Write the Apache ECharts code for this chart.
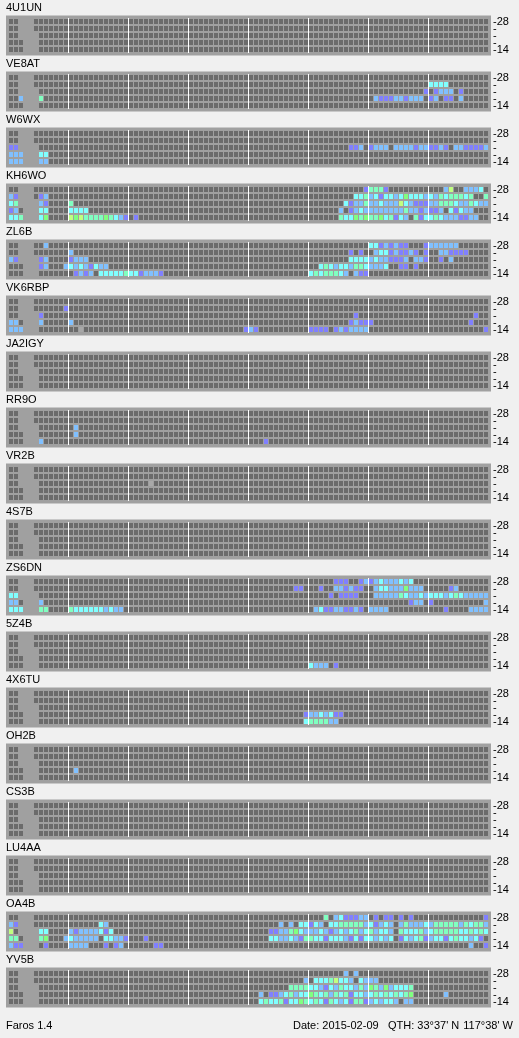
<!DOCTYPE html>
<html><head><meta charset="utf-8">
<script src="https://cdn.jsdelivr.net/npm/echarts@6/dist/echarts.min.js"></script>
<style>html,body{margin:0;padding:0;background:#f0f0f0;}#c{width:519px;height:1038px;}</style>
</head><body><div id="c"></div>
<script>
const stations = ['4U1UN','VE8AT','W6WX','KH6WO','ZL6B','VK6RBP','JA2IGY','RR9O','VR2B','4S7B','ZS6DN','5Z4B','4X6TU','OH2B','CS3B','LU4AA','OA4B','YV5B'];
const bands = ['28','24','21','18','14'];
const bandLabels = ['-28','-','-','-','-14'];
// level codes: '-' no slot, 0 nothing heard, 1..6 SNR steps, 7 grey mark
const levelColors = ['#6b6b6b','#8080ff','#80c0ff','#80ffff','#80ffc0','#80ff80','#c0ff80','#a8a8a8'];
const footerLeft = 'Faros 1.4';
const footerDate = 'Date: 2015-02-09';
const footerQth = "QTH: 33°37' N";
const footerLon = "117°38' W";

// rows top to bottom: 28, 24, 21, 18, 14 MHz; 96 slots of 15 min (groups of 12 = 3 h)
const d_4U1UN = [
'00---0000000 000000000000 000000000000 000000000000 000000000000 000000000000 000000000000 000000000000',
'00---0000000 000000000000 000000000000 000000000000 000000000000 000000000000 000000000000 000000000000',
'00----000000 000000000000 000000000000 000000000000 000000000000 000000000000 000000000000 000000000000',
'000---000000 000000000000 000000000000 000000000000 000000000000 000000000000 000000000000 000000000000',
'000---000000 000000000000 000000000000 000000000000 000000000000 000000000000 000000000000 000000000000'];
const d_VE8AT = [
'00---0000000 000000000000 000000000000 000000000000 000000000000 000000000000 000000000000 000000000000',
'00---0000000 000000000000 000000000000 000000000000 000000000000 000000000000 000000000000 333300000000',
'00----000000 000000000000 000000000000 000000000000 000000000000 000000000000 000000000001 012220100000',
'002---400000 000000000000 000000000000 000000000000 000000000000 000000000000 021112212220 120110200000',
'000---000000 000000000000 000000000000 000000000000 000000000000 000000000000 000000000000 000000000000'];
const d_W6WX = [
'00---0000000 000000000000 000000000000 000000000000 000000000000 000000000000 000000000000 000000000000',
'00---0000000 000000000000 000000000000 000000000000 000000000000 000000000000 000000000000 000000000000',
'11----000000 000000000000 000000000000 000000000000 000000000000 000000001120 122202222122 112102211112',
'222---330000 000000000000 000000000000 000000000000 000000000000 000000000000 000000000000 000000000000',
'222---220000 000000000000 000000000000 000000000000 000000000000 000000000000 000000000000 000000000000'];
const d_KH6WO = [
'00---0000000 000000000000 000000000000 000000000000 000000000000 000000000001 444100000000 000260022230',
'21---0120000 000000000000 000000000000 000000000000 000000000000 000000000334 231332353332 324344434004',
'34----210000 400000000000 000000000000 000000000000 000000000000 000000031224 223222632111 224443224322',
'120---330000 333300000000 000000000000 000000000000 000000000000 000000201232 222222242212 112031322000',
'334---350000 656444454321 010000000000 000000000000 000000000000 000000433545 445341320413 343222112200'];
const d_ZL6B = [
'00---0020000 000000000000 000000000000 000000000000 000000000000 000000000000 331212110001 222222000000',
'00---0000000 200000000000 000000000000 000000000000 000000000000 000000001010 023312112101 002211110000',
'21----120000 122200000000 000000000000 000000000000 000000000000 000000003333 232211120221 001020000000',
'000---120002 323213220000 000000000000 000000000000 000000000000 003432332443 222300110100 000000000000',
'000---000000 012120333334 331222100000 000000000000 000000000000 343444320211 000000000000 000000000000'];
const d_VK6RBP = [
'00---0000000 000000000000 000000000000 000000000000 000000000000 000000000000 000000000000 000000000000',
'00---0000001 000000000000 000000000000 000000000000 000000000000 000000000000 000000000000 000000000000',
'00----100000 000000000000 000000000000 000000000000 000000000000 000000000100 000000000000 000000000100',
'220---200000 200000000000 000000000000 000000000000 000000000000 000000001211 100000000000 000000001000',
'222---000000 007000000000 000000000000 000000000001 210000000000 111101212222 000000000000 000000000001'];
const d_JA2IGY = [
'00---0000000 000000000000 000000000000 000000000000 000000000000 000000000000 000000000000 000000000000',
'00---0000000 000000000000 000000000000 000000000000 000000000000 000000000000 000000000000 000000000000',
'00----000000 000000000000 000000000000 000000000000 000000000000 000000000000 000000000000 000000000000',
'000---000000 000000000000 000000000000 000000000000 000000000000 000000000000 000000000000 000000000000',
'000---000000 000000000000 000000000000 000000000000 000000000000 000000000000 000000000000 000000000000'];
const d_RR9O = [
'00---0000000 000000000000 000000000000 000000000000 000000000000 000000000000 000000000000 000000000000',
'00---0000000 000000000000 000000000000 000000000000 000000000000 000000000000 000000000000 000000000000',
'00----000000 020000000000 000000000000 000000000000 000000000000 000000000000 000000000000 000000000000',
'000---000000 020000000000 000000000000 000000000000 000000000000 000000000000 000000000000 000000000000',
'000---200000 000000000000 000000000000 000000000000 000100000000 000000000000 000000000000 000000000000'];
const d_VR2B = [
'00---0000000 000000000000 000000000000 000000000000 000000000000 000000000000 000000000000 000000000000',
'00---0000000 000000000000 000000000000 000000000000 000000000000 000000000000 000000000000 000000000000',
'00----000000 000000000000 000070000000 000000000000 000000000000 000000000000 000000000000 000000000000',
'000---000000 000000000000 000000000000 000000000000 000000000000 000000000000 000000000000 000000000000',
'000---000000 000000000000 000000000000 000000000000 000000000000 000000000000 000000000000 000000000000'];
const d_4S7B = [
'00---0000000 000000000000 000000000000 000000000000 000000000000 000000000000 000000000000 000000000000',
'00---0000000 000000000000 000000000000 000000000000 000000000000 000000000000 000000000000 000000000000',
'00----000000 000000000000 000000000000 000000000000 000000000000 000000000000 000000000000 000000000000',
'000---000000 000000000000 000000000000 000000000000 000000000000 000000000000 000000000000 000000000000',
'000---000000 000000000000 000000000000 000000000000 000000000000 000000000000 000000000000 000000000000'];
const d_ZS6DN = [
'00---0000000 000000000000 000000000000 000000000000 000000000000 000001110012 123222323000 000000000000',
'00---0000000 000000000000 000000000000 000000000000 000000000110 001002212110 023322252220 000012000000',
'33----000000 000000000000 000000000000 000000000000 000000000000 000010111100 022222432232 333234322222',
'220---200000 000000000000 000000000000 000000000000 000000000000 000000000000 000000001220 100000000002',
'333---440000 433333323220 000000000000 000000000000 000000000000 023112211210 222200000000 000100002222'];
const d_5Z4B = [
'00---0000000 000000000000 000000000000 000000000000 000000000000 000000000000 000000000000 000000000000',
'00---0000000 000000000000 000000000000 000000000000 000000000000 000000000000 000000000000 000000000000',
'00----000000 000000000000 000000000000 000000000000 000000000000 000000000000 000000000000 000000000000',
'000---000000 000000000000 000000000000 000000000000 000000000000 000000000000 000000000000 000000000000',
'000---000000 000000000000 000000000000 000000000000 000000000000 322201000000 000000000000 000000000000'];
const d_4X6TU = [
'00---0000000 000000000000 000000000000 000000000000 000000000000 000000000000 000000000000 000000000000',
'00---0000000 000000000000 000000000000 000000000000 000000000000 000000000000 000000000000 000000000000',
'00----000000 000000000000 000000000000 000000000000 000000000000 000000000000 000000000000 000000000000',
'000---000000 000000000000 000000000000 000000000000 000000000001 223231100000 000000000000 000000000000',
'000---000000 000000000000 000000000000 000000000000 000000000003 444422000000 000000000000 000000000000'];
const d_OH2B = [
'00---0000000 000000000000 000000000000 000000000000 000000000000 000000000000 000000000000 000000000000',
'00---0000000 000000000000 000000000000 000000000000 000000000000 000000000000 000000000000 000000000000',
'00----000000 000000000000 000000000000 000000000000 000000000000 000000000000 000000000000 000000000000',
'000---000000 020000000000 000000000000 000000000000 000000000000 000000000000 000000000000 000000000000',
'000---000000 000000000000 000000000000 000000000000 000000000000 000000000000 000000000000 000000000000'];
const d_CS3B = [
'00---0000000 000000000000 000000000000 000000000000 000000000000 000000000000 000000000000 000000000000',
'00---0000000 000000000000 000000000000 000000000000 000000000000 000000000000 000000000000 000000000000',
'00----000000 000000000000 000000000000 000000000000 000000000000 000000000000 000000000000 000000000000',
'000---000000 000000000000 000000000000 000000000000 000000000000 000000000000 000000000000 000000000000',
'000---000000 000000000000 000000000000 000000000000 000000000000 000000000000 000000000000 000000000000'];
const d_LU4AA = [
'00---0000000 000000000000 000000000000 000000000000 000000000000 000000000000 000000000000 000000000000',
'00---0000000 000000000000 000000000000 000000000000 000000000000 000000000000 000000000000 000000000000',
'00----000000 000000000000 000000000000 000000000000 000000000000 000000000000 000000000000 000000000000',
'000---000000 000000000000 000000000000 000000000000 000000000000 000000000000 000000000000 000000000000',
'000---000000 000000000000 000000000000 000000000000 000000000000 000000000000 000000000000 000000000000'];
const d_OA4B = [
'00---0000000 000000000000 000000000000 000000000000 000000000000 000402311122 010110101000 000000000001',
'21---0000000 000000320000 000000000000 000000000000 000000202033 132033444442 312320242223 244444243442',
'60----330000 212222313000 000000000000 000000000000 000011224532 223212323423 423320433342 344444334343',
'440---450002 322222033221 000100000000 000000000000 000033223214 433133321313 323230132341 233134332310',
'211---010000 222200010120 000001100000 000000000000 000000000000 000000000000 000000000000 000000002001'];
const d_YV5B = [
'00---0000000 000000000000 000000000000 000000000000 000000000000 000000020200 000000000000 000000000000',
'00---0000000 000000000000 000000000000 000000000000 000000000002 033346332032 220000000000 000000000000',
'00----000000 000000000000 000000000000 000000000000 000000004444 332132433242 542523334000 000000000000',
'000---000000 000000000000 000000000000 000000000000 002011234233 543424341332 343434345000 000200000000',
'000---000000 000000000000 000000000000 000000000000 003433413354 343143231441 232332022000 000000000000'];

const panels = [d_4U1UN,d_VE8AT,d_W6WX,d_KH6WO,d_ZL6B,d_VK6RBP,d_JA2IGY,d_RR9O,d_VR2B,d_4S7B,d_ZS6DN,d_5Z4B,d_4X6TU,d_OH2B,d_CS3B,d_LU4AA,d_OA4B,d_YV5B];

const FONT = '"Liberation Sans", Arial, sans-serif';
const option = {
  animation: false,
  backgroundColor: '#f0f0f0',
  grid: [], xAxis: [], yAxis: [], series: [], graphic: [],
  visualMap: {
    type: 'piecewise', show: false, dimension: 2,
    seriesIndex: panels.map((p, i) => i),
    pieces: levelColors.map((c, i) => ({ value: i, color: c }))
  }
};

panels.forEach((rows, k) => {
  const T = 16 + 56 * k;
  option.grid.push({
    left: 8.5, top: T + 2, width: 480, height: 35, show: true,
    backgroundColor: '#a0a0a0', borderColor: '#a0a0a0', borderWidth: 5
  });
  option.xAxis.push({
    type: 'value', gridIndex: k, min: -0.5, max: 95.5, interval: 12,
    axisLine: { show: false }, axisTick: { show: false }, axisLabel: { show: false },
    splitLine: { show: true, showMinLine: false, showMaxLine: false, lineStyle: { color: '#ffffff', width: 1 } }
  });
  option.yAxis.push({
    type: 'category', gridIndex: k, data: bands, inverse: true, position: 'right', offset: 4.5,
    axisLine: { show: false },
    axisTick: { show: false },
    axisLabel: { show: true, interval: 0, margin: 0, color: '#000000', fontSize: 11, fontFamily: FONT,
      formatter: (v, i) => bandLabels[i] },
    splitLine: { show: false }
  });
  const data = [];
  rows.forEach((s, r) => {
    const str = s.replace(/ /g, '');
    if (str.length !== 96) console.error('bad length', stations[k], r, str.length);
    for (let c = 0; c < str.length; c++) {
      const ch = str[c];
      if (ch === '-') continue;
      data.push([c, r, Number(ch)]);
    }
  });
  option.series.push({
    type: 'scatter', xAxisIndex: k, yAxisIndex: k, data: data,
    symbol: 'rect', symbolSize: [4, 5], silent: true, itemStyle: { opacity: 1 }
  });
  option.graphic.push({
    type: 'text', x: 6, y: T - 8,
    style: { text: stations[k], fill: '#000', font: '11px ' + FONT, verticalAlign: 'middle', textVerticalAlign: 'middle' }
  });
});

option.graphic.push(
  { type: 'text', x: 6, y: 1026, style: { text: footerLeft, fill: '#000', font: '11px ' + FONT, verticalAlign: 'middle', textVerticalAlign: 'middle' } },
  { type: 'text', x: 293, y: 1026, style: { text: footerDate, fill: '#000', font: '11px ' + FONT, verticalAlign: 'middle', textVerticalAlign: 'middle' } },
  { type: 'text', x: 388, y: 1026, style: { text: footerQth, fill: '#000', font: '11px ' + FONT, verticalAlign: 'middle', textVerticalAlign: 'middle' } },
  { type: 'text', x: 513, y: 1026, style: { text: footerLon, fill: '#000', font: '11px ' + FONT, align: 'right', textAlign: 'right', verticalAlign: 'middle', textVerticalAlign: 'middle' } }
);

const chart = echarts.init(document.getElementById('c'), null, { renderer: 'canvas' });
chart.setOption(option);
</script>
</body></html>
